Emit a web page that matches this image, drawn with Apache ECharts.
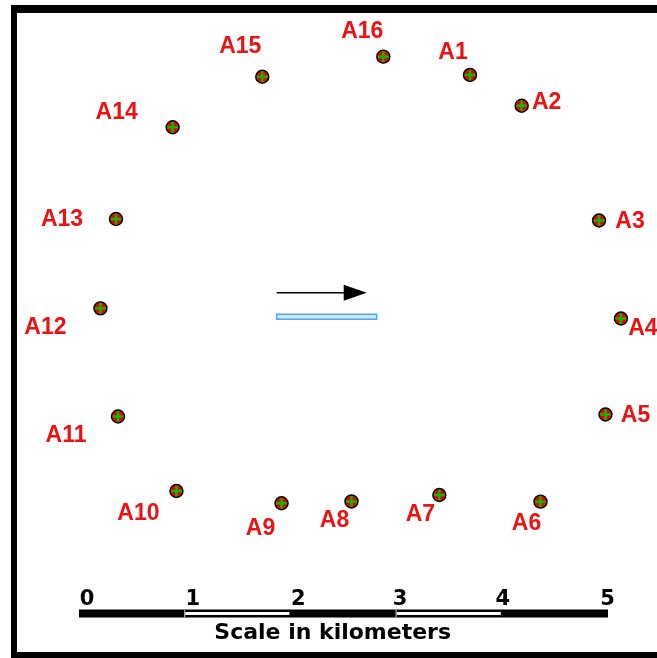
<!DOCTYPE html>
<html>
<head>
<meta charset="utf-8">
<script src="https://cdn.jsdelivr.net/npm/echarts@6/dist/echarts.min.js"></script>
<style>
  html, body { margin: 0; padding: 0; background: #fff; }
  #chart { width: 657px; height: 658px; }
</style>
</head>
<body>
<div id="chart"></div>
<script>
// ---- data (kilometres) ----
const stationNames = ['A1','A2','A3','A4','A5','A6','A7','A8','A9','A10','A11','A12','A13','A14','A15','A16'];
const stationX = [3.699, 4.188, 4.920, 5.127, 4.981, 4.366, 3.409, 2.578, 1.916, 0.922, 0.369, 0.203, 0.350, 0.886, 1.734, 2.879];
const stationY = [5.095, 4.804, 3.718, 2.791, 1.883, 1.058, 1.121, 1.060, 1.043, 1.159, 1.864, 2.887, 3.732, 4.600, 5.078, 5.268];
const scaleTicks = [0, 1, 2, 3, 4, 5];
const scaleSegments = [0, 1, 2, 3, 4];
const arrowStart = [1.870, 3.035];
const arrowEnd = [2.722, 3.035];
const blueBarStart = [1.870, 2.808];
const blueBarEnd = [2.816, 2.808];

// ---- layout (pixels) ----
const K = 105.7; // px per km
const labelOffsets = [[-17,-24],[25,-5],[31,-1],[22,8],[30,-1],[-14,20],[-19,18],[-17,17],[-21,23],[-38,21],[-52,17],[-55,17],[-54,-1],[-56,-17],[-22,-32],[-21,-27]];
const tickLabelShift = [8, 8, 8, 4, 1, 0];

const stations = stationNames.map((n, i) => [stationX[i], stationY[i], i]);

const tickRich = {};
tickLabelShift.forEach((s, i) => {
  tickRich['t' + i] = { fontSize: 21, fontWeight: 'bold', fontFamily: 'DejaVu Sans', color: '#000', padding: [0, 0, 0, 2 * s] };
});

const chart = echarts.init(document.getElementById('chart'), null, { renderer: 'canvas' });

const option = {
  backgroundColor: '#ffffff',
  animation: false,
  grid: { left: 79 - 0.6 * K, width: 6 * K, bottom: 44.5, height: 5.8 * K, containLabel: false },
  xAxis: {
    type: 'value', min: -0.6, max: 5.4,
    axisLine: { show: false }, axisTick: { show: false }, splitLine: { show: false },
    axisLabel: {
      customValues: scaleTicks, inside: true, margin: 3,
      fontSize: 21, fontWeight: 'bold', fontFamily: 'DejaVu Sans', color: '#000',
      formatter: function (v) {
        const i = scaleTicks.indexOf(Math.round(v));
        return '{t' + i + '|' + Math.round(v) + '}';
      },
      rich: tickRich
    },
    name: 'Scale in kilometers', nameLocation: 'middle', nameGap: 9,
    nameTextStyle: { fontSize: 22, fontWeight: 'bold', fontFamily: 'DejaVu Sans', color: '#000' }
  },
  yAxis: { type: 'value', min: 0, max: 5.8, show: false },
  graphic: [
    { type: 'rect', shape: { x: 11, y: 5, width: 646, height: 8 }, style: { fill: '#000' }, z: 100 },
    { type: 'rect', shape: { x: 11, y: 5, width: 6, height: 653 }, style: { fill: '#000' }, z: 100 },
    { type: 'rect', shape: { x: 11, y: 652, width: 646, height: 6 }, style: { fill: '#000' }, z: 100 }
  ],
  series: [
    {
      type: 'custom', name: 'scale', clip: false,
      data: scaleSegments.map(s => [s]),
      renderItem: function (params, api) {
        const s = api.value(0);
        const a = api.coord([s, 0]);
        const b = api.coord([s + 1, 0]);
        const children = [
          { type: 'rect', shape: { x: a[0], y: a[1] - 4, width: b[0] - a[0] + 0.5, height: 8 }, style: { fill: '#000' } }
        ];
        if (s % 2 === 1) {
          children.push({ type: 'rect', shape: { x: a[0] + 0.5, y: a[1] - 1.5, width: b[0] - a[0] - 1.5, height: 3 }, style: { fill: '#fff' } });
          children.push({ type: 'rect', shape: { x: a[0] - 0.5, y: a[1] - 4, width: 1, height: 8 }, style: { fill: '#ccc' } });
        }
        return { type: 'group', children: children };
      }
    },
    {
      type: 'custom', name: 'annotation', clip: false,
      data: [[arrowStart[0], arrowStart[1]]],
      renderItem: function (params, api) {
        const p0 = api.coord(arrowStart);
        const p1 = api.coord(arrowEnd);
        const q0 = api.coord(blueBarStart);
        const q1 = api.coord(blueBarEnd);
        const head = 23, half = 8;
        return {
          type: 'group',
          children: [
            { type: 'line', shape: { x1: p0[0], y1: p0[1], x2: p1[0] - head + 2, y2: p1[1] }, style: { stroke: '#000', lineWidth: 1.5 } },
            { type: 'polygon', shape: { points: [[p1[0], p1[1]], [p1[0] - head, p1[1] - half], [p1[0] - head, p1[1] + half]] }, style: { fill: '#000' } },
            { type: 'rect', shape: { x: q0[0], y: q0[1] - 2.5, width: q1[0] - q0[0], height: 5 }, style: { fill: '#cfe8ff', stroke: '#4aa6ff', lineWidth: 1.5 } }
          ]
        };
      }
    },
    {
      type: 'custom', name: 'stations', clip: false,
      data: stations,
      renderItem: function (params, api) {
        const i = api.value(2);
        const p = api.coord([api.value(0), api.value(1)]);
        const off = labelOffsets[i];
        const r = 6.5, arm = 5.4;
        return {
          type: 'group',
          children: [
            { type: 'circle', shape: { cx: p[0], cy: p[1], r: r }, style: { fill: '#ee0000', stroke: '#000', lineWidth: 1.4 } },
            { type: 'line', shape: { x1: p[0] - arm, y1: p[1], x2: p[0] + arm, y2: p[1] }, style: { stroke: '#00c000', lineWidth: 2.4 } },
            { type: 'line', shape: { x1: p[0], y1: p[1] - arm, x2: p[0], y2: p[1] + arm }, style: { stroke: '#00c000', lineWidth: 2.4 } },
            { type: 'text', x: p[0] + off[0], y: p[1] + off[1] + 2,
              style: { text: stationNames[i], fill: '#ee1111', font: 'bold 23px "Liberation Sans", Arial, sans-serif', align: 'center', verticalAlign: 'middle' } }
          ]
        };
      }
    }
  ]
};
chart.setOption(option);
</script>
</body>
</html>
